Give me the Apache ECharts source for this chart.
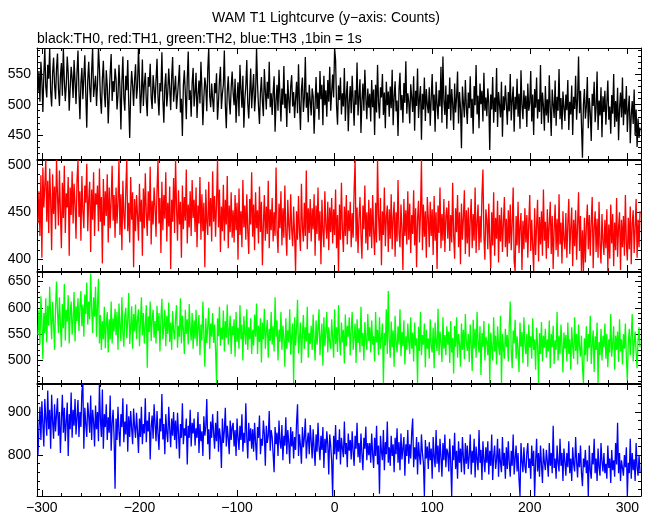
<!DOCTYPE html>
<html><head><meta charset="utf-8">
<script src="https://cdn.jsdelivr.net/npm/echarts@6/dist/echarts.min.js"></script>
<style>html,body{margin:0;padding:0;background:#fff}#c{width:652px;height:515px}</style>
</head><body><div id="c"></div>
<script>
const titleText = 'WAM T1 Lightcurve (y\u2212axis: Counts)';
const subtitleText = 'black:TH0, red:TH1, green:TH2, blue:TH3 ,1bin = 1s';
const binStart = -304;   // time of first 1 s bin
const binWidth = 1;
const xMin = -305, xMax = 314;
const xMajorTicks = [-300,-200,-100,0,100,200,300];
const xMinorTicks = [-300,-280,-260,-240,-220,-200,-180,-160,-140,-120,-100,-80,-60,-40,-20,0,20,40,60,80,100,120,140,160,180,200,220,240,260,280,300];

const th0Range = [410, 594];
const th0Major = [450, 500, 550];
const th0Minor = [420,430,440,450,460,470,480,490,500,510,520,530,540,550,560,570,580,590];
const th1Range = [388, 505];
const th1Major = [400, 450, 500];
const th1Minor = [390,400,410,420,430,440,450,460,470,480,490,500];
const th2Range = [457, 668];
const th2Major = [500, 550, 600, 650];
const th2Minor = [460,470,480,490,500,510,520,530,540,550,560,570,580,590,600,610,620,630,640,650,660];
const th3Range = [705, 965];
const th3Major = [800, 900];
const th3Minor = [720,740,760,780,800,820,840,860,880,900,920,940,960];

const th0 = [
520,556,505,571,540,488,549,594,530,512,566,543,594,521,497,552,578,533,509,560,
585,526,498,547,569,515,594,541,506,533,580,552,490,527,563,544,511,574,538,501,
553,590,522,476,536,561,509,545,582,517,462,540,571,528,504,556,594,513,531,548,
498,534,594,560,511,485,542,573,520,496,557,531,469,515,552,584,506,539,521,560,
543,492,515,566,528,459,537,580,511,490,548,524,574,503,445,520,556,532,498,541,
567,510,529,594,541,486,519,575,498,534,553,507,481,546,530,568,512,493,549,527,
502,541,576,513,482,536,522,587,508,470,531,552,497,520,560,528,491,545,579,505,
526,548,493,515,539,566,487,510,448,532,557,519,476,543,588,508,524,480,536,561,
497,521,553,478,516,540,502,571,527,466,511,545,530,489,558,594,514,496,535,509,
488,536,519,552,475,504,541,563,493,518,533,590,500,461,522,547,507,484,529,555,
520,499,543,470,512,537,481,566,525,495,548,462,509,531,574,502,477,519,560,494,
526,551,489,515,594,534,497,468,520,546,505,481,559,523,492,538,510,571,496,519,
483,520,547,455,506,533,490,558,515,472,527,500,564,494,518,463,541,509,486,530,
549,497,521,478,510,538,486,567,503,458,525,545,488,512,579,495,520,471,533,507,
482,527,514,452,501,546,493,520,475,556,509,533,466,548,499,524,480,541,505,563,
490,521,550,512,594,574,498,467,532,508,545,484,519,497,561,473,515,539,456,504,
531,486,548,507,465,524,500,570,482,513,542,453,506,535,490,558,511,476,527,495,
518,472,541,496,525,450,533,487,566,504,477,529,512,551,483,520,461,538,499,522,
480,530,494,558,466,512,539,489,507,448,525,553,491,516,470,536,503,572,485,519,
505,469,534,512,488,547,457,523,498,560,478,510,531,442,518,492,545,473,526,500,
486,529,465,511,551,490,517,455,538,501,476,524,497,563,470,580,506,483,532,460,
517,493,545,474,526,502,458,535,487,512,555,469,521,495,428,530,503,479,541,497,
468,520,494,547,478,510,452,531,499,566,484,515,461,535,501,523,472,553,490,512,
481,527,503,425,517,492,546,470,512,488,561,463,521,500,479,538,447,514,491,532,
502,467,521,489,551,474,508,530,455,513,492,543,480,518,460,557,499,476,524,493,
515,463,535,490,503,556,472,517,450,526,495,545,477,509,488,566,468,520,498,457,
531,482,509,470,549,494,448,525,500,478,540,465,513,490,559,476,511,459,522,496,
473,517,491,541,458,505,484,532,450,513,493,548,475,510,580,486,523,466,412,500,
526,477,497,546,461,511,487,440,518,498,538,471,494,555,458,507,482,529,446,514,
488,523,467,503,540,475,497,452,516,485,551,463,506,472,528,441,494,520,479,545,
466,510,484,531,455,493,515,436,482,506,468,525,449,492,430,477,445,462
];

const th1 = [
438,472,425,489,402,497,455,478,505,440,483,428,496,462,410,490,448,477,432,505,
468,436,494,450,412,481,444,499,428,470,455,487,404,476,447,493,438,480,458,422,
484,505,445,472,420,488,452,433,478,460,501,430,463,482,408,474,442,492,425,470,
458,478,430,496,440,466,396,485,436,472,446,490,418,476,433,462,499,441,468,423,
476,438,461,505,426,469,410,483,447,432,474,505,430,460,418,487,442,471,392,464,
430,468,447,420,480,440,463,404,475,433,491,449,425,472,441,498,416,462,437,476,
456,424,474,505,438,465,407,482,431,468,443,492,419,460,435,477,390,463,440,486,
428,505,455,420,473,437,461,402,478,432,466,441,495,417,458,434,472,425,484,444,
463,429,476,413,457,438,487,421,469,430,460,392,474,440,426,482,435,465,419,493,
440,467,424,460,505,434,474,408,456,430,479,420,463,437,488,412,457,429,471,423,
452,418,468,431,460,400,475,426,451,413,484,434,457,421,469,430,406,464,437,492,
424,458,410,471,433,452,417,477,429,461,394,437,468,420,456,427,483,412,453,431,
465,419,450,425,497,430,407,459,433,472,415,454,423,478,428,404,463,436,421,469,
432,414,456,426,388,451,421,467,429,409,480,434,419,460,425,494,411,454,428,464,
419,454,432,469,404,457,427,476,420,451,395,463,430,413,472,436,422,461,410,455,
429,465,417,453,426,474,412,447,388,458,421,481,431,408,456,425,468,416,452,430,
461,413,449,423,474,505,419,455,407,442,466,426,401,457,432,478,417,450,410,463,
424,454,412,468,430,405,460,418,505,447,420,465,394,451,426,476,414,445,457,408,
453,422,469,411,444,461,403,450,419,484,428,413,458,433,389,464,425,452,416,472,
421,459,407,447,427,473,415,454,392,443,462,418,449,505,410,458,424,451,402,466,
444,413,461,425,453,405,467,420,450,390,457,428,476,412,448,420,464,408,445,455,
422,462,409,447,418,481,425,401,454,429,468,413,450,395,459,421,444,473,406,452,
417,455,403,443,464,412,448,420,476,407,440,458,410,446,418,468,495,424,400,453,
442,411,459,420,391,450,415,471,404,444,422,462,397,447,419,455,408,439,466,413,
443,403,452,417,458,410,438,476,398,388,446,415,461,407,435,449,389,441,411,454,
418,447,402,439,468,409,442,413,388,454,405,436,463,398,445,416,451,404,474,420,
440,401,453,412,437,461,406,446,390,432,458,410,443,403,469,416,439,396,451,421,
411,449,402,438,464,406,433,455,393,442,414,452,400,437,471,409,446,388,431,388,
444,397,435,458,411,447,404,440,466,391,433,451,408,443,402,461,415,396,448,420,
405,442,412,453,388,437,401,458,417,448,393,439,410,465,403,434,450,389,442,413,
446,404,468,417,399,444,411,456,395,438,452,407,434,464,402,442,413,451
];

const th2 = [
548,596,530,622,575,502,590,551,618,534,604,566,640,583,540,611,570,520,600,650,
592,552,620,568,525,607,561,645,538,596,574,624,532,588,612,549,578,630,536,603,
575,618,556,600,632,565,606,545,625,588,648,568,612,578,665,600,552,620,583,640,
545,605,655,532,586,520,575,540,602,523,570,592,515,578,540,612,532,580,555,598,
548,592,520,608,566,537,620,553,526,585,600,542,578,628,531,565,603,522,588,555,
606,540,578,597,527,572,620,548,590,532,566,605,486,584,554,612,537,578,596,543,
575,532,604,556,590,517,579,617,540,565,596,527,585,550,610,535,572,520,594,556,
540,580,605,524,566,545,618,532,585,558,512,596,550,578,530,607,561,538,590,522,
576,541,596,527,562,586,510,568,538,612,550,488,580,533,565,600,522,570,545,590,
533,568,520,457,580,546,602,528,562,540,595,517,575,543,606,530,556,585,512,565,
548,578,507,592,535,562,522,605,540,568,500,584,550,530,597,520,563,540,580,512,
558,528,587,545,608,512,566,535,580,496,572,540,598,522,555,577,505,560,537,592,
530,565,517,620,545,576,500,558,535,592,520,566,542,488,580,522,557,534,597,511,
546,570,457,582,528,558,615,513,542,572,495,548,586,522,563,536,602,505,552,531,
566,520,587,540,500,576,530,558,597,510,545,570,490,582,527,553,592,515,563,535,
522,578,541,505,597,531,563,516,605,540,510,572,534,558,494,587,527,566,545,582,
510,558,592,520,545,570,495,578,533,561,515,602,527,552,500,573,540,520,588,537,
563,515,576,530,546,498,592,534,558,510,582,522,543,570,457,552,528,597,512,632,
540,505,574,525,557,488,585,533,515,565,530,597,508,554,527,576,492,546,520,570,
535,512,582,522,553,498,572,528,542,457,564,518,592,510,548,530,570,487,558,522,
542,503,578,528,515,562,485,572,535,518,598,510,555,532,497,582,522,548,510,565,
530,555,495,575,515,543,475,566,526,582,505,550,532,488,570,520,558,502,588,535,
518,550,497,568,530,480,577,522,560,505,592,535,515,565,472,552,526,575,500,545,
535,510,570,457,553,525,500,582,517,547,492,565,530,510,585,457,550,522,503,560,
525,548,498,566,612,518,485,557,532,577,503,546,520,478,572,526,554,495,582,530,
512,550,488,568,524,546,503,580,520,540,482,562,530,457,552,512,573,498,547,524,
560,505,540,517,576,485,550,525,566,493,538,520,592,500,547,512,568,530,477,553,
522,548,498,572,512,540,482,563,526,503,582,518,550,492,568,525,507,547,488,457,
542,510,565,498,550,524,585,493,530,557,478,546,520,572,457,535,510,560,500,547,
525,570,503,550,487,540,515,588,507,532,565,482,547,520,555,497,578,517,540,492,
550,522,570,505,462,535,560,510,546,588,498,532,555,515,485,540,563,525
];

const th3 = [
800,865,912,835,925,872,820,930,885,845,950,860,905,815,940,878,838,918,855,895,
932,845,900,805,882,940,852,910,832,878,922,798,895,860,945,840,905,868,930,848,
888,928,842,900,865,948,965,815,910,872,842,922,890,852,938,835,905,878,820,915,
860,900,832,965,882,842,952,815,895,865,918,835,888,852,938,810,875,905,842,722,
885,835,912,855,820,895,865,932,830,878,848,918,808,890,842,902,862,825,908,866,
840,898,855,805,885,842,912,825,872,850,932,830,880,855,900,790,865,892,838,918,
872,832,902,850,812,885,855,942,836,872,802,895,852,830,912,862,818,885,845,900,
835,880,815,898,852,792,872,840,920,825,862,845,885,778,868,840,905,820,875,850,
885,822,862,840,900,805,872,832,855,798,890,845,866,930,825,860,790,878,840,895,
852,815,875,832,902,808,862,840,770,885,828,856,910,820,868,840,802,880,835,865,
875,820,858,798,885,840,812,868,835,895,808,852,828,920,840,792,875,832,862,815,
860,808,875,830,788,865,840,892,802,838,822,880,848,775,868,828,845,902,810,858,
842,802,760,865,825,852,798,880,830,815,870,788,845,822,888,802,858,830,780,865,
820,855,792,842,812,875,918,798,848,822,780,865,818,840,885,792,832,852,802,870,
832,792,860,815,775,848,808,875,820,788,845,812,865,770,838,805,855,825,755,848,
822,785,705,845,802,870,790,835,808,860,778,840,815,795,878,802,828,772,850,810,
835,790,855,808,775,845,815,875,795,828,782,850,802,765,840,815,866,788,828,800,
828,782,850,802,770,840,798,868,778,822,710,845,808,788,858,765,830,802,878,782,
818,775,845,798,825,760,840,802,862,782,830,765,850,790,815,842,752,825,798,858,
780,825,792,852,885,772,818,790,842,755,830,798,778,848,805,782,705,835,792,820,
768,830,788,815,745,842,795,772,858,780,822,760,838,795,750,828,788,848,772,815,
805,762,838,782,705,822,788,852,768,810,745,832,782,815,760,842,795,755,828,780,
822,768,798,848,755,810,782,838,748,820,790,765,858,782,812,742,832,790,760,818,
782,832,755,810,775,848,742,798,822,768,790,838,750,815,782,760,842,775,805,745,
818,768,832,782,750,810,775,848,755,792,822,762,805,742,705,828,785,760,818,775,
758,805,828,770,792,745,822,775,810,705,785,838,762,805,750,822,778,735,815,782,
765,812,785,750,828,775,805,758,868,770,792,745,822,782,762,838,775,805,740,815,
785,752,805,772,832,758,792,740,818,778,762,842,785,748,805,772,822,758,728,792,
772,812,758,788,705,822,765,745,805,778,838,758,792,740,815,772,752,828,785,762,
805,758,780,745,822,770,792,735,812,765,788,750,828,778,875,758,805,740,788,770,
752,800,772,818,705,782,758,838,745,805,765,790,740,828,772,752,800,760
];

const panels = [
  { data: th0, color: '#000000', range: th0Range, major: th0Major, minor: th0Minor },
  { data: th1, color: '#ff0000', range: th1Range, major: th1Major, minor: th1Minor },
  { data: th2, color: '#00ff00', range: th2Range, major: th2Major, minor: th2Minor },
  { data: th3, color: '#0000ff', range: th3Range, major: th3Major, minor: th3Minor }
];

const FONT = '"Liberation Sans", Arial, Helvetica, sans-serif';
const fmt = v => String(v).replace('-', '\u2212');
const tops = [48, 160, 272, 384];
const heights = [111, 111, 111, 112];

const grid = [], xAxis = [], yAxis = [], series = [];
panels.forEach((p, g) => {
  const last = g === panels.length - 1;
  [['major', 6], ['minor', 3]].forEach(([kind, len]) => {
    const gi = grid.length;
    const isMajor = kind === 'major';
    grid.push({ left: 37, right: 11, top: tops[g], height: heights[g] });
    const xt = isMajor ? xMajorTicks : xMinorTicks;
    const yt = isMajor ? p.major : p.minor;
    ['bottom', 'top'].forEach(pos => {
      xAxis.push({
        type: 'value', gridIndex: gi, position: pos, min: xMin, max: xMax,
        axisLine: { show: isMajor, onZero: false, lineStyle: { color: '#000', width: 1 } },
        axisTick: { show: true, inside: true, length: len, customValues: xt, lineStyle: { color: '#000', width: 1 } },
        axisLabel: { show: isMajor && pos === 'bottom' && last, customValues: xt, formatter: fmt,
          color: '#000', fontFamily: FONT, fontSize: 14, margin: 5 },
        splitLine: { show: false }
      });
    });
    ['left', 'right'].forEach(pos => {
      yAxis.push({
        type: 'value', gridIndex: gi, position: pos, min: p.range[0], max: p.range[1],
        axisLine: { show: isMajor, onZero: false, lineStyle: { color: '#000', width: 1 } },
        axisTick: { show: true, inside: true, length: len, customValues: yt, lineStyle: { color: '#000', width: 1 } },
        axisLabel: { show: isMajor && pos === 'left', customValues: yt, color: '#000',
          fontFamily: FONT, fontSize: 14, margin: 6 },
        splitLine: { show: false }
      });
    });
    if (isMajor) {
      series.push({
        type: 'line', xAxisIndex: xAxis.length - 2, yAxisIndex: yAxis.length - 2,
        data: p.data.map((v, i) => [binStart + i * binWidth, v]),
        showSymbol: false, symbol: 'none', clip: true, sampling: null,
        lineStyle: { color: p.color, width: 1.3 }, itemStyle: { color: p.color },
        animation: false, silent: true, z: 1
      });
    }
  });
});

const chart = echarts.init(document.getElementById('c'), null, { renderer: 'canvas' });
chart.setOption({
  backgroundColor: '#ffffff',
  animation: false,
  title: [
    { text: titleText, left: 'center', top: 6, textStyle: { fontFamily: FONT, fontSize: 14, fontWeight: 'normal', color: '#000' } },
    { text: subtitleText, left: 32, top: 27, textStyle: { fontFamily: FONT, fontSize: 14, fontWeight: 'normal', color: '#000' } }
  ],
  grid, xAxis, yAxis, series
});
</script>
</body></html>
